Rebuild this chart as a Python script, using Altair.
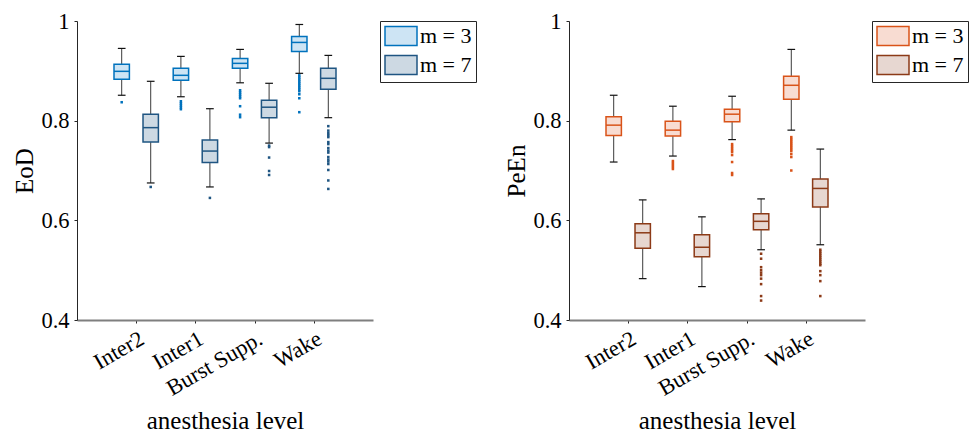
import json
import altair as alt
import pandas as pd

categories = ["Inter2", "Inter1", "Burst Supp.", "Wake"]
groups = ["m = 3", "m = 7"]

# ---- EoD (left panel) ----
eod_m3_whi = [0.945, 0.929, 0.943, 0.993]
eod_m3_q3 = [0.913, 0.905, 0.925, 0.969]
eod_m3_med = [0.899, 0.891, 0.915, 0.957]
eod_m3_q1 = [0.883, 0.881, 0.905, 0.939]
eod_m3_wlo = [0.851, 0.848, 0.876, 0.895]
eod_m3_out = [
    [0.837],
    [0.839, 0.835, 0.831, 0.827, 0.823],
    [0.861, 0.857, 0.853, 0.849, 0.845, 0.829, 0.812, 0.807],
    [0.891, 0.887, 0.883, 0.879, 0.875, 0.871, 0.867, 0.863, 0.859, 0.853, 0.845, 0.817],
]
eod_m7_whi = [0.879, 0.824, 0.875, 0.931]
eod_m7_q3 = [0.813, 0.761, 0.841, 0.905]
eod_m7_med = [0.786, 0.739, 0.827, 0.885]
eod_m7_q1 = [0.757, 0.716, 0.806, 0.863]
eod_m7_wlo = [0.675, 0.667, 0.755, 0.806]
eod_m7_out = [
    [0.667],
    [0.645],
    [0.750, 0.747, 0.726, 0.699, 0.691],
    [0.789, 0.780, 0.775, 0.771, 0.767, 0.757, 0.753, 0.745, 0.740, 0.736,
     0.727, 0.722, 0.718, 0.713, 0.701, 0.680, 0.663],
]

# ---- PeEn (right panel) ----
peen_m3_whi = [0.851, 0.829, 0.849, 0.943]
peen_m3_q3 = [0.808, 0.799, 0.823, 0.889]
peen_m3_med = [0.791, 0.781, 0.813, 0.871]
peen_m3_q1 = [0.770, 0.769, 0.798, 0.843]
peen_m3_wlo = [0.717, 0.729, 0.762, 0.781]
peen_m3_out = [
    [],
    [0.719, 0.715, 0.711, 0.707, 0.703],
    [0.753, 0.749, 0.745, 0.741, 0.737, 0.731, 0.717, 0.695, 0.691],
    [0.767, 0.763, 0.759, 0.755, 0.751, 0.747, 0.743, 0.739, 0.733, 0.727, 0.700],
]
peen_m7_whi = [0.641, 0.607, 0.643, 0.743]
peen_m7_q3 = [0.593, 0.571, 0.613, 0.683]
peen_m7_med = [0.575, 0.546, 0.598, 0.664]
peen_m7_q1 = [0.544, 0.527, 0.581, 0.627]
peen_m7_wlo = [0.483, 0.467, 0.541, 0.551]
peen_m7_out = [
    [],
    [],
    [0.533, 0.523, 0.506, 0.500, 0.495, 0.490, 0.483, 0.472, 0.448, 0.439],
    [0.541, 0.537, 0.533, 0.529, 0.525, 0.521, 0.517, 0.513, 0.510, 0.498,
     0.490, 0.478, 0.448],
]

FONT = "Liberation Serif"
GROUP_SHIFT = 0.245
BOX_HALF = 0.13
CAP_HALF = 0.065


def stats_frame(per_group):
    rows = []
    for g, (whi, q3, med, q1, wlo) in zip(groups, per_group):
        for i, c in enumerate(categories):
            pos = i + 1 + (-GROUP_SHIFT if g == groups[0] else GROUP_SHIFT)
            rows.append(dict(cat=c, grp=g, pos=pos,
                             bl=pos - BOX_HALF, br=pos + BOX_HALF,
                             cl=pos - CAP_HALF, cr=pos + CAP_HALF,
                             whi=whi[i], q3=q3[i], med=med[i], q1=q1[i], wlo=wlo[i]))
    return pd.DataFrame(rows)


def outlier_frame(per_group):
    rows = []
    for g, outs in zip(groups, per_group):
        for i, c in enumerate(categories):
            pos = i + 1 + (-GROUP_SHIFT if g == groups[0] else GROUP_SHIFT)
            for v in outs[i]:
                rows.append(dict(cat=c, grp=g, pos=pos, val=v))
    return pd.DataFrame(rows)


label_expr = json.dumps(categories) + "[round(datum.value) - 1]"


def panel(stats, outs, ytitle, fills, strokes):
    xs = alt.Scale(domain=[0, 5], nice=False, zero=False)
    ys = alt.Scale(domain=[0.4, 1.0], nice=False, zero=False)
    xaxis = alt.Axis(values=[1, 2, 3, 4], labelExpr=label_expr, title="anesthesia level",
                     labelAngle=330, labelAlign="right", labelBaseline="top",
                     labelPadding=4, titlePadding=9, grid=False, labelOverlap=False,
                     labelFont=FONT, titleFont=FONT,
                     domainColor="#7f7f7f", domainWidth=2)
    yaxis = alt.Axis(values=[0.4, 0.6, 0.8, 1.0], format=".1~f", title=ytitle,
                     labelFont=FONT, titleFont=FONT,
                     titlePadding=3, grid=False, domainColor="#262626", domainWidth=1)
    fill_sc = alt.Scale(domain=groups, range=fills)
    stroke_sc = alt.Scale(domain=groups, range=strokes)
    leg = alt.Legend(title=None, orient="right", offset=7, padding=4,
                     strokeColor="#262626", fillColor="white",
                     symbolType="M-1,-0.95H2.2V0.95H-1Z", symbolSize=400,
                     symbolStrokeWidth=1.5, symbolOpacity=1,
                     labelFontSize=22, labelFont=FONT, labelColor="black",
                     labelOffset=14, rowPadding=3, labelLimit=200)

    base = alt.Chart(stats)
    whisk = base.mark_rule(color="#3a3a3a", strokeWidth=1).encode(
        x=alt.X("pos:Q", scale=xs, axis=xaxis),
        y=alt.Y("wlo:Q", scale=ys, axis=yaxis),
        y2="whi:Q",
    )
    cap_lo = base.mark_rule(color="#111111", strokeWidth=1.2).encode(
        x="cl:Q", x2="cr:Q", y="wlo:Q")
    cap_hi = base.mark_rule(color="#111111", strokeWidth=1.2).encode(
        x="cl:Q", x2="cr:Q", y="whi:Q")
    box = base.mark_rect(strokeWidth=1.5, opacity=1).encode(
        x="bl:Q", x2="br:Q", y="q1:Q", y2="q3:Q",
        fill=alt.Fill("grp:N", scale=fill_sc, legend=leg),
        stroke=alt.Stroke("grp:N", scale=stroke_sc, legend=leg),
    )
    median = base.mark_rule(strokeWidth=1.5).encode(
        x="bl:Q", x2="br:Q", y="med:Q",
        stroke=alt.Stroke("grp:N", scale=stroke_sc, legend=leg),
    )
    pts = alt.Chart(outs).mark_point(filled=False, size=1.5, strokeWidth=1.3, opacity=1,
                                     shape="square").encode(
        x="pos:Q", y="val:Q",
        stroke=alt.Stroke("grp:N", scale=stroke_sc, legend=leg),
    )
    return alt.layer(whisk, cap_lo, cap_hi, box, median, pts).properties(width=296, height=299)


left = panel(
    stats_frame([(eod_m3_whi, eod_m3_q3, eod_m3_med, eod_m3_q1, eod_m3_wlo),
                 (eod_m7_whi, eod_m7_q3, eod_m7_med, eod_m7_q1, eod_m7_wlo)]),
    outlier_frame([eod_m3_out, eod_m7_out]),
    "EoD", ["#cde4f4", "#cdd9e3"], ["#0072bd", "#1f5582"])
right = panel(
    stats_frame([(peen_m3_whi, peen_m3_q3, peen_m3_med, peen_m3_q1, peen_m3_wlo),
                 (peen_m7_whi, peen_m7_q3, peen_m7_med, peen_m7_q1, peen_m7_wlo)]),
    outlier_frame([peen_m3_out, peen_m7_out]),
    "PeEn", ["#f8dcd2", "#e7d7d1"], ["#d95319", "#8c3a17"])

chart = alt.hconcat(left, right, spacing=27).resolve_scale(
    fill="independent", stroke="independent"
).resolve_legend(
    fill="independent", stroke="independent"
).properties(
    padding={"left": 12, "top": 10, "right": 0, "bottom": 0},
).configure(font=FONT, background="white").configure_view(stroke=None).configure_axis(
    labelFont=FONT, titleFont=FONT, labelFontSize=22.5, titleFontSize=25,
    labelColor="black", titleColor="black", titleFontWeight="normal",
    tickColor="#262626", tickSize=3, labelPadding=5,
).configure_legend(labelFont=FONT)

chart.save("out.html", embed_options={"renderer": "svg", "actions": False})
